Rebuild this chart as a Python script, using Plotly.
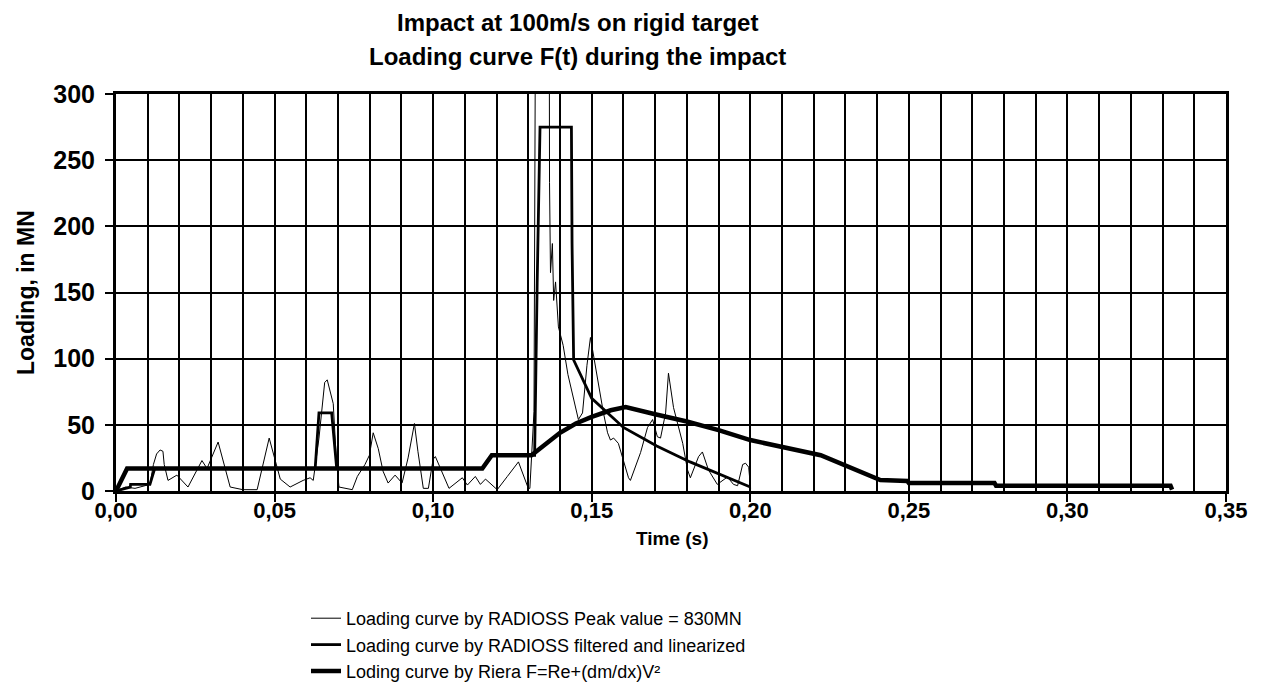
import plotly.graph_objects as go

# ---- data ----
thin_t = [0, 0.003, 0.006, 0.009, 0.0107, 0.0118, 0.0128, 0.0139, 0.0148, 0.0152, 0.0164, 0.0192, 0.0227,
          0.0271, 0.0287, 0.0322, 0.036, 0.040, 0.0445, 0.0483, 0.0502, 0.0518, 0.0549, 0.059, 0.0612, 0.0622,
          0.064, 0.065, 0.0658, 0.0666, 0.0674, 0.0685, 0.0694, 0.0703, 0.0745, 0.0761, 0.0785, 0.0799, 0.0811,
          0.0827, 0.0842, 0.0858, 0.088, 0.0902, 0.0921, 0.0941, 0.0952, 0.0969, 0.0985, 0.1000, 0.1007, 0.1050,
          0.1092, 0.1108, 0.1133, 0.1149, 0.1165, 0.1202, 0.1234, 0.1250, 0.1269, 0.1300, 0.1305, 0.1318, 0.1330,
          0.1363, 0.1367, 0.1370, 0.1376, 0.1380, 0.1386, 0.1395, 0.1410, 0.1425, 0.1445, 0.1458, 0.1471, 0.1485,
          0.1496, 0.1518, 0.1537, 0.1550, 0.1559, 0.1569, 0.1584, 0.1600, 0.1616, 0.1622, 0.1654, 0.1676, 0.1692,
          0.1707, 0.1717, 0.1733, 0.1742, 0.1758, 0.1787, 0.1802, 0.1811, 0.1837, 0.1849, 0.1868, 0.1896, 0.1928,
          0.1947, 0.1960, 0.1976, 0.1985, 0.1995, 0.2001]
thin_v = [0, 3, 2, 4, 5, 20, 28, 31, 30, 20, 8, 12, 3,
          23, 17, 37, 3, 1, 1, 40, 23, 9, 3, 8, 10, 8,
          40, 66, 82, 84, 76, 66, 27, 3, 1, 11, 20, 27, 44,
          32, 15, 6, 12, 6, 25, 51, 30, 2, 2, 24, 26, 2,
          10, 4.5, 11, 5, 9, 1, 11, 16, 22, 2, 2, 60, 830,
          830, 233, 165, 187, 144, 158, 124, 110, 88, 66, 54, 59, 95,
          116, 84, 59, 44, 38.5, 40, 36, 23, 10, 8, 29, 48, 54,
          41, 40, 59, 89, 63, 36, 16, 10, 26, 29.5, 16, 5, 10.6,
          5, 4, 20, 21, 18, 2]

filt_t = [0, 0.0045, 0.0046, 0.0107, 0.0122, 0.0628, 0.0640, 0.0680, 0.0696, 0.1155, 0.1185, 0.1320,
          0.1328, 0.1337, 0.1436, 0.1438, 0.1443, 0.150, 0.160, 0.1705, 0.181, 0.191, 0.2]
filt_v = [0, 3, 5, 5, 17, 17, 59, 59, 17, 17, 27, 27,
          157, 275, 275, 187, 99, 70, 48, 34, 22, 12, 3]

riera_t = [0, 0.0035, 0.1155, 0.1185, 0.131, 0.14, 0.145, 0.15, 0.156, 0.1607, 0.17, 0.18, 0.19, 0.2,
           0.2222, 0.241, 0.2495, 0.250, 0.277, 0.2775, 0.3325, 0.333]
riera_v = [0, 17, 17, 27, 27, 44, 51, 56, 61, 63.5, 58, 52.5, 46, 38.5,
           27, 8.3, 7.5, 6, 6, 4, 4, 1]

names = ["Loading curve by RADIOSS Peak value = 830MN",
         "Loading curve by RADIOSS filtered and linearized",
         "Loding curve by Riera F=Re+(dm/dx)V²"]

title_lines = ["Impact at 100m/s on rigid target", "Loading curve F(t) during the impact"]
x_title = "Time (s)"
y_title = "Loading, in MN"

W, H = 1263, 684
PL, PR, PT, PB = 116, 1226, 94, 491   # plot area in pixels
PW, PH = PR - PL, PB - PT

def px_x(x):
    return (x - PL) / PW

def px_y(y):
    return (PB - y) / PH

fig = go.Figure()
fig.add_trace(go.Scatter(x=thin_t, y=thin_v, mode="lines", name=names[0],
                         line=dict(color="black", width=1)))
fig.add_trace(go.Scatter(x=filt_t, y=filt_v, mode="lines", name=names[1],
                         line=dict(color="black", width=2.8)))
fig.add_trace(go.Scatter(x=riera_t, y=riera_v, mode="lines", name=names[2],
                         line=dict(color="black", width=4.5)))

font_main = "Arial, Liberation Sans, sans-serif"

fig.update_layout(
    width=W, height=H,
    paper_bgcolor="white", plot_bgcolor="white",
    margin=dict(l=PL, r=W - PR, t=PT, b=H - PB, autoexpand=False),
    separators=",.",
    showlegend=True,
    legend=dict(x=px_x(306), y=px_y(600), xanchor="left", yanchor="top",
                font=dict(family=font_main, size=18, color="black"),
                bgcolor="rgba(0,0,0,0)", tracegroupgap=0),
    font=dict(family=font_main, color="black"),
)

fig.update_xaxes(range=[0, 0.35], dtick=0.05, tick0=0, tickformat=".2f",
                 showgrid=True, gridcolor="black", gridwidth=1.5,
                 minor=dict(dtick=0.01, showgrid=True, gridcolor="black", gridwidth=1.5),
                 ticks="outside", ticklen=8, tickwidth=2, tickcolor="black",
                 showline=True, linecolor="black", linewidth=3, mirror=True,
                 zeroline=False, automargin=False, ticklabelstandoff=-10,
                 tickfont=dict(family=font_main, size=22, color="black", weight="bold"))
fig.update_yaxes(range=[0, 300], dtick=50, tick0=0,
                 showgrid=True, gridcolor="black", gridwidth=1.5,
                 ticks="outside", ticklen=8, tickwidth=2, tickcolor="black",
                 showline=True, linecolor="black", linewidth=3, mirror=True,
                 zeroline=False, automargin=False, ticklabelstandoff=5,
                 tickfont=dict(family=font_main, size=25, color="black", weight="bold"))

# titles as annotations for exact placement
fig.add_annotation(text="<b>" + title_lines[0] + "</b>", xref="paper", yref="paper",
                   x=px_x(577), y=px_y(22), xanchor="center", yanchor="middle",
                   showarrow=False, font=dict(family=font_main, size=24, color="black"))
fig.add_annotation(text="<b>" + title_lines[1] + "</b>", xref="paper", yref="paper",
                   x=px_x(577), y=px_y(57), xanchor="center", yanchor="middle",
                   showarrow=False, font=dict(family=font_main, size=24, color="black"))
fig.add_annotation(text="<b>" + x_title + "</b>", xref="paper", yref="paper",
                   x=px_x(672), y=px_y(538), xanchor="center", yanchor="middle",
                   showarrow=False, font=dict(family=font_main, size=19, color="black"))
fig.add_annotation(text="<b>" + y_title + "</b>", xref="paper", yref="paper",
                   x=px_x(26), y=px_y(293), xanchor="center", yanchor="middle",
                   textangle=-90, showarrow=False,
                   font=dict(family=font_main, size=23, color="black"))

fig.write_html("out.html", config={"displayModeBar": False},
               post_script="document.body.style.margin='0';")
